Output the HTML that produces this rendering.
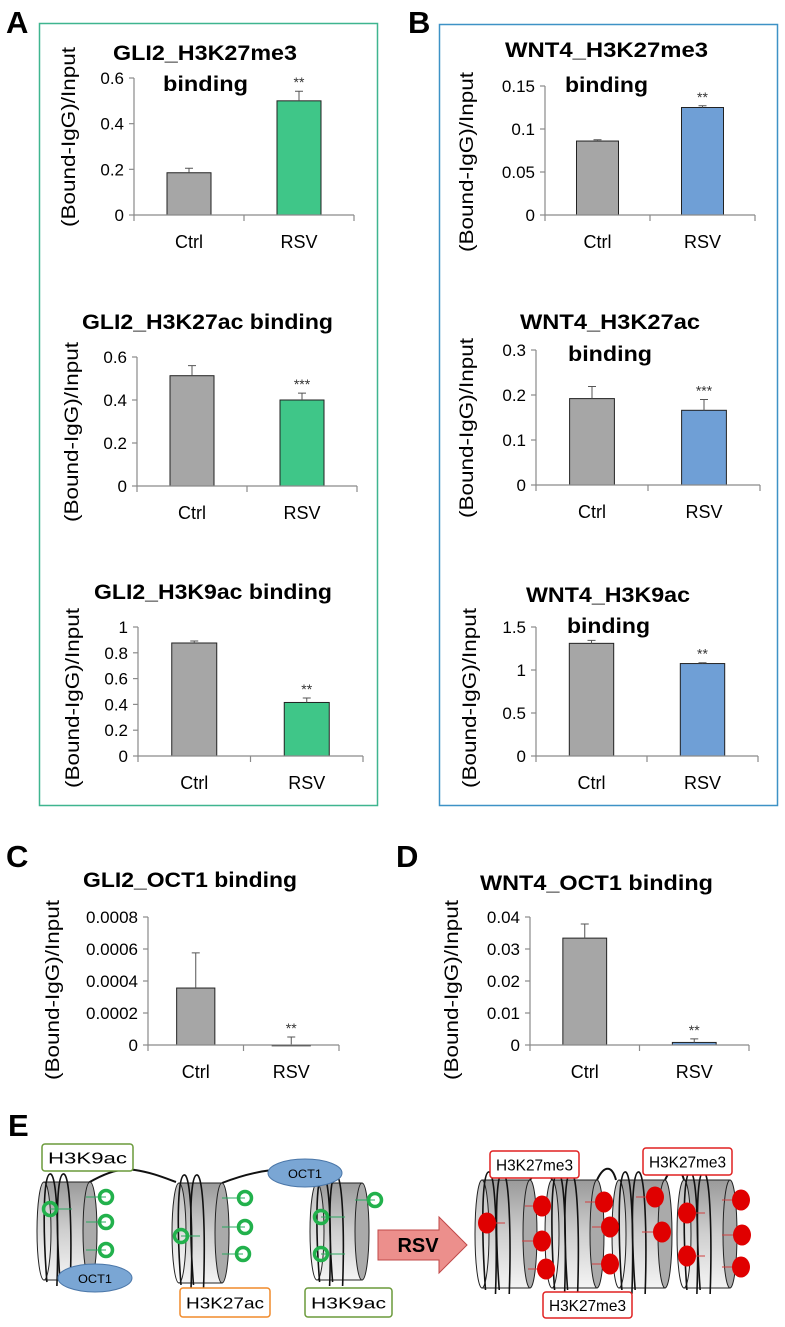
<!DOCTYPE html>
<html><head><meta charset="utf-8"><title>ChIP binding figure</title>
<style>
html,body{margin:0;padding:0;background:#fff;}
svg{display:block;font-family:"Liberation Sans",Arial,sans-serif;}
</style></head>
<body>
<svg id="fig" width="785" height="1327" viewBox="0 0 785 1327" xmlns="http://www.w3.org/2000/svg">
<defs>
<linearGradient id="cyl" x1="0" y1="0" x2="0" y2="1">
<stop offset="0" stop-color="#9a9a9a"/><stop offset="0.5" stop-color="#cfcfcf"/><stop offset="1" stop-color="#f4f4f4"/>
</linearGradient>
<linearGradient id="face" x1="0" y1="0" x2="0" y2="1">
<stop offset="0" stop-color="#bdbdbd"/><stop offset="1" stop-color="#ffffff"/>
</linearGradient>
</defs>
<text x="6" y="33" font-size="31" font-weight="bold">A</text>
<text x="408" y="33" font-size="31" font-weight="bold">B</text>
<text x="6" y="867" font-size="31" font-weight="bold">C</text>
<text x="396" y="867" font-size="31" font-weight="bold">D</text>
<text x="8" y="1136" font-size="31" font-weight="bold">E</text>
<rect x="39.5" y="23.5" width="338" height="782" fill="none" stroke="#3fb58f" stroke-width="1.5"/>
<rect x="439.5" y="24.5" width="338" height="781" fill="none" stroke="#3d92c6" stroke-width="1.5"/>
<g id="charts"></g>
<g id="diagram"></g>
</svg>
<script>
const categories = ["Ctrl", "RSV"];
const a1Values = [0.185, 0.5];      const a1Errors = [0.02, 0.042];
const a2Values = [0.513, 0.4];      const a2Errors = [0.047, 0.032];
const a3Values = [0.876, 0.415];    const a3Errors = [0.015, 0.035];
const b1Values = [0.086, 0.125];    const b1Errors = [0.0015, 0.002];
const b2Values = [0.192, 0.166];    const b2Errors = [0.027, 0.024];
const b3Values = [1.31, 1.075];     const b3Errors = [0.035, 0.01];
const cValues = [0.000356, 0.0];    const cErrors = [0.00022, 0.00005];
const dValues = [0.0334, 0.0008];   const dErrors = [0.0044, 0.0011];
const a1Ticks = [0, 0.2, 0.4, 0.6];      const a1TickLabels = ["0","0.2","0.4","0.6"];
const a2Ticks = [0, 0.2, 0.4, 0.6];      const a2TickLabels = ["0","0.2","0.4","0.6"];
const a3Ticks = [0, 0.2, 0.4, 0.6, 0.8, 1]; const a3TickLabels = ["0","0.2","0.4","0.6","0.8","1"];
const b1Ticks = [0, 0.05, 0.1, 0.15];    const b1TickLabels = ["0","0.05","0.1","0.15"];
const b2Ticks = [0, 0.1, 0.2, 0.3];      const b2TickLabels = ["0","0.1","0.2","0.3"];
const b3Ticks = [0, 0.5, 1, 1.5];        const b3TickLabels = ["0","0.5","1","1.5"];
const cTicks = [0, 0.0002, 0.0004, 0.0006, 0.0008]; const cTickLabels = ["0","0.0002","0.0004","0.0006","0.0008"];
const dTicks = [0, 0.01, 0.02, 0.03, 0.04]; const dTickLabels = ["0","0.01","0.02","0.03","0.04"];
const a1Stars = ["", "**"];  const a2Stars = ["", "***"]; const a3Stars = ["", "**"];
const b1Stars = ["", "**"];  const b2Stars = ["", "***"]; const b3Stars = ["", "**"];
const cStars = ["", "**"];   const dStars = ["", "**"];

const NS = "http://www.w3.org/2000/svg";
function mk(tag, attrs, parent) {
  const e = document.createElementNS(NS, tag);
  for (const k in attrs) e.setAttribute(k, attrs[k]);
  parent.appendChild(e);
  return e;
}

const charts = [
  {id:"gli2-h3k27me3", vals:a1Values, errs:a1Errors, ticks:a1Ticks, labels:a1TickLabels, stars:a1Stars, fill:"#3fc688",
   ax:134, y0:215, yTop:78, xEnd:354, title:[["GLI2_H3K27me3",113,60,184],["binding",163,91,85]], yl:[69,137]},
  {id:"gli2-h3k27ac", vals:a2Values, errs:a2Errors, ticks:a2Ticks, labels:a2TickLabels, stars:a2Stars, fill:"#3fc688",
   ax:137, y0:486, yTop:357, xEnd:357, title:[["GLI2_H3K27ac binding",82,329,251]], yl:[72,432]},
  {id:"gli2-h3k9ac", vals:a3Values, errs:a3Errors, ticks:a3Ticks, labels:a3TickLabels, stars:a3Stars, fill:"#3fc688",
   ax:138, y0:756, yTop:627, xEnd:363, title:[["GLI2_H3K9ac binding",94,599,238]], yl:[73,698]},
  {id:"wnt4-h3k27me3", vals:b1Values, errs:b1Errors, ticks:b1Ticks, labels:b1TickLabels, stars:b1Stars, fill:"#6f9fd6",
   ax:545, y0:215, yTop:86, xEnd:755, title:[["WNT4_H3K27me3",505,57,203],["binding",565,92,83]], yl:[467,162]},
  {id:"wnt4-h3k27ac", vals:b2Values, errs:b2Errors, ticks:b2Ticks, labels:b2TickLabels, stars:b2Stars, fill:"#6f9fd6",
   ax:536, y0:485, yTop:350, xEnd:760, title:[["WNT4_H3K27ac",520,329,180],["binding",568,361,84]], yl:[467,428]},
  {id:"wnt4-h3k9ac", vals:b3Values, errs:b3Errors, ticks:b3Ticks, labels:b3TickLabels, stars:b3Stars, fill:"#6f9fd6",
   ax:536, y0:756, yTop:627, xEnd:758, title:[["WNT4_H3K9ac",526,602,164],["binding",567,633,83]], yl:[470,698]},
  {id:"gli2-oct1", vals:cValues, errs:cErrors, ticks:cTicks, labels:cTickLabels, stars:cStars, fill:"#a6a6a6",
   ax:148, y0:1045, yTop:917, xEnd:339, title:[["GLI2_OCT1 binding",83,887,214]], yl:[53,990]},
  {id:"wnt4-oct1", vals:dValues, errs:dErrors, ticks:dTicks, labels:dTickLabels, stars:dStars, fill:"#6f9fd6",
   ax:530, y0:1045, yTop:917, xEnd:749, title:[["WNT4_OCT1 binding",480,890,233]], yl:[452,990]}
];

const root = document.getElementById("charts");
charts.forEach(c => {
  const g = mk("g", {}, root);
  
  
  const maxV = c.ticks[c.ticks.length - 1];
  const yScale = v => c.y0 - (v / maxV) * (c.y0 - c.yTop);
  const slot = (c.xEnd - c.ax) / categories.length;
  const xCenter = i => c.ax + slot * (i + 0.5);
  const bw = slot * 0.4;
  c.title.forEach((t, k) => {
    const tt = mk("text", {x:t[1], y:t[2], "font-size":21, "font-weight":"bold", textLength:t[3], lengthAdjust:"spacingAndGlyphs"}, g);
    tt.textContent = t[0];
    
    
  });
  const yl = mk("text", {x:0, y:0, "font-size":19, "text-anchor":"middle", textLength:180, lengthAdjust:"spacingAndGlyphs",
    transform:"translate(" + (c.yl[0] + 6) + "," + c.yl[1] + ") rotate(-90)"}, g);
  yl.textContent = "(Bound-IgG)/Input";
  
  
  c.vals.forEach((v, i) => {
    const top = yScale(v);
    const bar = mk("rect", {x:xCenter(i) - bw/2, y:top, width:bw, height:Math.max(c.y0 - top, 0.8),
      fill: i === 0 ? "#a6a6a6" : c.fill, stroke:"#222", "stroke-width":1}, g);
    
    
    const et = yScale(v + c.errs[i]);
    const eb = mk("path", {d:"M" + xCenter(i) + " " + top + "V" + et + "M" + (xCenter(i) - 4) + " " + et + "H" + (xCenter(i) + 4),
      stroke:"#555", "stroke-width":1, fill:"none"}, g);
    
    
    if (c.stars[i]) {
      const st = mk("text", {x:xCenter(i), y:et - 4, "font-size":14, "text-anchor":"middle", fill:"#333"}, g);
      st.textContent = c.stars[i];
      
      
    }
    const cl = mk("text", {x:xCenter(i), y:c.y0 + 33, "font-size":18, "text-anchor":"middle"}, g);
    cl.textContent = categories[i];
    
    
  });
  const axis = mk("path", {d:"M" + c.ax + " " + c.yTop + "V" + c.y0 + "H" + c.xEnd, stroke:"#8a8a8a", "stroke-width":1.2, fill:"none"}, g);
  
  
  for (let i = 0; i <= categories.length; i++) {
    const x = c.ax + slot * i;
    const tk = mk("line", {x1:x, x2:x, y1:c.y0, y2:c.y0 + 6, stroke:"#8a8a8a", "stroke-width":1.2}, g);
    
    
  }
  c.ticks.forEach((t, i) => {
    const y = yScale(t);
    const tk = mk("line", {x1:c.ax - 5, x2:c.ax, y1:y, y2:y, stroke:"#8a8a8a", "stroke-width":1.2}, g);
    
    
    const tl = mk("text", {x:c.ax - 10, y:y + 6, "font-size":17, "text-anchor":"end"}, g);
    tl.textContent = c.labels[i];
    
    
  });
});

const dg = document.getElementById("diagram");
function nucleosome(x, y, w, h, name) {
  const g = mk("g", {}, dg);
  
  
  const r = 7;
  mk("rect", {x:x + r, y:y, width:w - r, height:h, fill:"url(#cyl)", stroke:"#222", "stroke-width":1}, g);
  mk("ellipse", {cx:x + w, cy:y + h/2, rx:r, ry:h/2, fill:"#aaa", stroke:"#222", "stroke-width":1}, g);
  mk("ellipse", {cx:x + r, cy:y + h/2, rx:r, ry:h/2, fill:"url(#face)", stroke:"#222", "stroke-width":1}, g);
  [0.3, 0.55].forEach(f => {
    const cx = x + w * f;
    mk("path", {d:"M" + (cx - 6) + " " + (y + h + 2) + " C" + (cx - 10) + " " + (y + h/2) + "," + (cx - 10) + " " + (y - 6) + "," + (cx - 3) + " " + (y - 8) +
      " C" + (cx + 4) + " " + (y - 10) + "," + (cx + 6) + " " + (y + h/2) + "," + (cx + 4) + " " + (y + h + 6),
      fill:"none", stroke:"#111", "stroke-width":1.6}, g);
  });
}
function line(d, name) {
  const p = mk("path", {d:d, fill:"none", stroke:"#111", "stroke-width":2}, dg);
  
  
}
function ring(cx, cy, name, lx) {
  if (lx !== undefined) {
    const l = mk("line", {x1:lx, x2:cx, y1:cy, y2:cy, stroke:"#2aa860", "stroke-width":1}, dg);
    
    
  }
  const c = mk("circle", {cx:cx, cy:cy, r:6.5, fill:"none", stroke:"#22b14c", "stroke-width":3.5}, dg);
  
  
}
function dot(cx, cy, lx) {
  const l = mk("line", {x1:lx, x2:cx, y1:cy, y2:cy, stroke:"#d04040", "stroke-width":1}, dg);
  
  
  const c = mk("ellipse", {cx:cx, cy:cy, rx:9, ry:10.5, fill:"#e00000"}, dg);
  
  
}
function label(x, y, w, h, color, txt, name) {
  const r = mk("rect", {x:x, y:y, width:w, height:h, rx:3, fill:"#fff", stroke:color, "stroke-width":1.5}, dg);
  
  
  const t = mk("text", {x:x + w/2, y:y + h/2 + 6, "font-size":16, "text-anchor":"middle", textLength:w - 12, lengthAdjust:"spacingAndGlyphs"}, dg);
  t.textContent = txt;
  
  
}
function oct(cx, cy, name) {
  const e = mk("ellipse", {cx:cx, cy:cy, rx:37, ry:14, fill:"#7aa6d4", stroke:"#4a76a8", "stroke-width":1}, dg);
  
  
  const t = mk("text", {x:cx, y:cy + 5, "font-size":12, "text-anchor":"middle", textLength:34, lengthAdjust:"spacingAndGlyphs"}, dg);
  t.textContent = "OCT1";
  
  
}
line("M88 1183 C110 1170,125 1168,135 1170 C150 1172,165 1178,176 1182", "dna-linker-1");
line("M222 1183 C240 1176,255 1172,272 1170", "dna-linker-2");
nucleosome(37, 1182, 53, 98, "nucleosome-1");
nucleosome(172, 1183, 50, 100, "nucleosome-2");
nucleosome(310, 1183, 52, 97, "nucleosome-3");
ring(106, 1197, "acetyl-mark", 86); ring(106, 1222, "acetyl-mark", 86); ring(106, 1250, "acetyl-mark", 86);
ring(50, 1209, "acetyl-mark", 72);
ring(245, 1198, "acetyl-mark", 222); ring(245, 1227, "acetyl-mark", 222); ring(243, 1254, "acetyl-mark", 222);
ring(181, 1236, "acetyl-mark", 200);
ring(375, 1200, "acetyl-mark", 355); ring(321, 1217, "acetyl-mark", 345); ring(321, 1254, "acetyl-mark", 345);
oct(95, 1278, "oct1-bound-1");
oct(305, 1173, "oct1-bound-2");
label(42, 1144, 91, 27, "#6a9a3a", "H3K9ac", "h3k9ac-label-1");
label(180, 1288, 90, 29, "#f08a2a", "H3K27ac", "h3k27ac-label");
label(305, 1288, 87, 29, "#6a9a3a", "H3K9ac", "h3k9ac-label-2");
const arrow = mk("path", {d:"M378 1230 H439 V1217 L467 1245 L439 1273 V1260 H378 Z", fill:"#ec8f8c", stroke:"#c04848", "stroke-width":1}, dg);


const at = mk("text", {x:418, y:1252, "font-size":20, "font-weight":"bold", "text-anchor":"middle"}, dg);
at.textContent = "RSV";


line("M530 1180 C540 1165,548 1165,552 1180", "dna-linker-3");
line("M597 1180 C604 1165,612 1165,616 1180", "dna-linker-4");
line("M665 1180 C672 1165,680 1165,684 1180", "dna-linker-5");
nucleosome(475, 1180, 55, 108, "nucleosome-4");
nucleosome(545, 1180, 52, 108, "nucleosome-5");
nucleosome(612, 1180, 53, 108, "nucleosome-6");
nucleosome(677, 1180, 53, 108, "nucleosome-7");
dot(487, 1223, 505);
dot(542, 1206, 525); dot(542, 1241, 522); dot(546, 1269, 528);
dot(604, 1202, 585); dot(610, 1227, 592); dot(610, 1264, 592);
dot(655, 1197, 636); dot(662, 1232, 642);
dot(687, 1213, 705); dot(687, 1256, 705);
dot(741, 1200, 722); dot(742, 1235, 722); dot(741, 1267, 722);
label(490, 1151, 89, 27, "#e02020", "H3K27me3", "h3k27me3-label-1");
label(643, 1148, 89, 27, "#e02020", "H3K27me3", "h3k27me3-label-2");
label(543, 1292, 89, 26, "#e02020", "H3K27me3", "h3k27me3-label-3");
</script>
</body></html>
